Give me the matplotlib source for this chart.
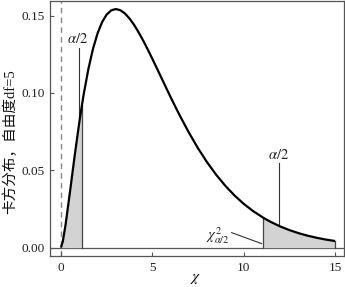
import matplotlib
matplotlib.use("Agg")
import matplotlib.pyplot as plt
import numpy as np

# chi-square density (df=5)
x_vals = [0, 0.1, 0.25, 0.5, 0.75, 1.0, 1.145, 1.25, 1.5, 1.75, 2.0, 2.25, 2.5, 2.75,
          3.0, 3.25, 3.5, 3.75, 4.0, 4.25, 4.5, 4.75, 5.0, 5.25, 5.5, 5.75, 6.0, 6.25,
          6.5, 7.0, 7.5, 8.0, 8.5, 9.0, 9.5, 10.0, 10.5, 11.07, 11.5,
          12.0, 12.5, 13.0, 13.5, 14.0, 14.5, 15.0]
density = [0.0, 0.0040, 0.01467, 0.03662, 0.05936, 0.08066, 0.0919, 0.09947, 0.11540,
           0.12833, 0.13837, 0.14571, 0.15060, 0.15333, 0.15418, 0.15342, 0.15131,
           0.14809, 0.14398, 0.13915, 0.13380, 0.12804, 0.12204, 0.11588, 0.10965,
           0.10344, 0.09730, 0.09129,
           0.08545, 0.07437, 0.06424, 0.05511, 0.04701, 0.03989, 0.03369, 0.02833,
           0.02374, 0.01933, 0.01651, 0.01370, 0.01135, 0.00937, 0.00772, 0.00635,
           0.00521, 0.00427]
lower_crit = 1.145
upper_crit = 11.07
x_ticks = [0, 5, 10, 15]
y_ticks = [0.00, 0.05, 0.10, 0.15]
y_label = "卡方分布，自由度df=5"

plt.rcParams['mathtext.fontset'] = 'stix'
plt.rcParams['font.family'] = ['Liberation Serif', 'Noto Sans CJK SC']

x = np.array(x_vals)
y = np.array(density)

fig = plt.figure(figsize=(3.45, 2.87), dpi=100)
ax = fig.add_axes([50/345, 31/287, 294/345, 255.5/287])

ax.axhline(0, color='#555555', lw=0.9, zorder=1)
ax.axvline(0, color='#888888', lw=1.0, ls=(0, (4, 3)), zorder=1)

lm = x <= lower_crit
rm = x >= upper_crit
ax.fill_between(x[lm], 0, y[lm], color='#d3d3d3', lw=0, zorder=2)
ax.fill_between(x[rm], 0, y[rm], color='#d3d3d3', lw=0, zorder=2)
ax.plot([lower_crit, lower_crit], [0, y[lm][-1]], color='#444444', lw=0.9, zorder=3)
ax.plot([upper_crit, upper_crit], [0, y[rm][0]], color='#444444', lw=0.9, zorder=3)
ax.plot([15, 15], [0, y[-1]], color='#444444', lw=0.9, zorder=3)

ax.plot(x, y, color='black', lw=1.6, zorder=4, solid_capstyle='butt', solid_joinstyle='round')

# annotations
ax.plot([0.99, 0.99], [0.0835, 0.129], color='#333333', lw=0.8, zorder=3)
ax.text(0.93, 0.1305, r'$\alpha/2$', ha='center', va='bottom', fontsize=10.5, color='#222222')
ax.plot([11.95, 11.95], [0.0140, 0.0545], color='#333333', lw=0.8, zorder=3)
ax.text(11.93, 0.0555, r'$\alpha/2$', ha='center', va='bottom', fontsize=10.5, color='#222222')
ax.plot([9.34, 10.98], [0.0097, 0.0026], color='#333333', lw=0.8, zorder=3)
ax.text(8.6, 0.0075, r'$\chi^2_{\alpha/2}$', ha='center', va='center', fontsize=10.5, color='#222222')

ax.set_xlim(-0.60, 15.49)
ax.set_ylim(-0.0054, 0.1597)
ax.set_xticks(x_ticks)
ax.set_yticks(y_ticks)
ax.set_yticklabels([f"{v:.2f}" for v in y_ticks])
ax.tick_params(direction='in', length=3, width=0.8, color='#555555', labelsize=9.5,
               labelcolor='#222222', pad=4)
for s in ax.spines.values():
    s.set_color('#555555')
    s.set_linewidth(0.9)

fig.text(196/345, 1 - 279/287, r'$\chi$', fontsize=11, ha='center', va='center')
fig.text(10/345, 1 - 142/287, y_label, fontsize=10.5, rotation=90,
         ha='center', va='center', color='#111111')

fig.savefig('out.png', dpi=100)
